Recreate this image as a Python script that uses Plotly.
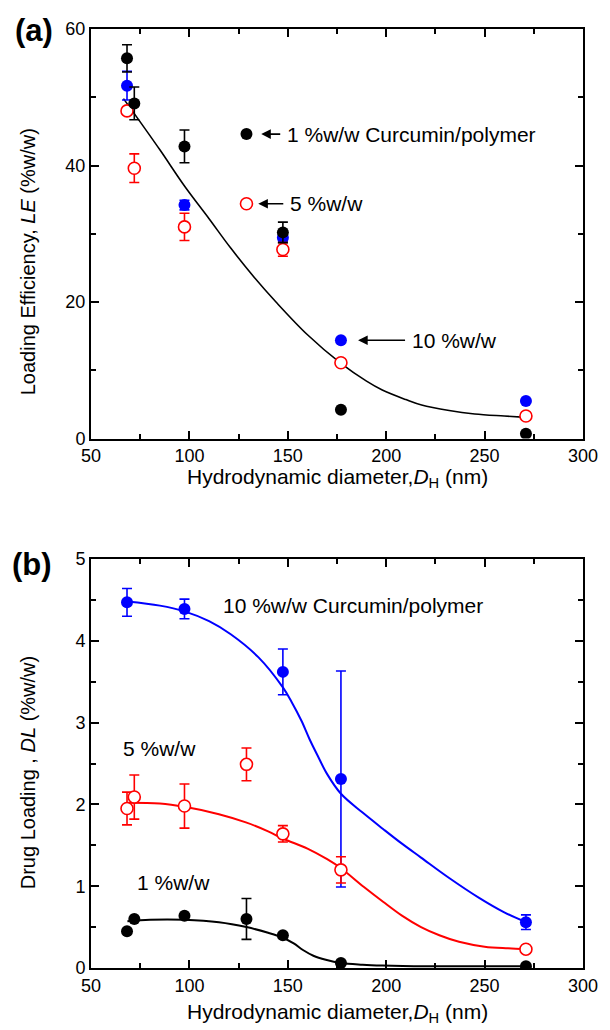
import plotly.graph_objects as go

# ---------------- data: panel (a) Loading efficiency ----------------
a_x_1 = [68.3, 72.0, 97.5, 129.0, 147.5, 177.0, 271.0]
a_y_1 = [55.7, 49.1, 42.8, 44.6, 30.2, 4.2, 0.7]
a_e_1 = [2.0, 2.4, 2.4, 0.0, 1.5, 0.0, 0.0]

a_x_5 = [68.3, 72.0, 97.5, 129.0, 147.5, 177.0, 271.0]
a_y_5 = [48.0, 39.6, 31.0, 34.4, 27.7, 11.1, 3.3]
a_e_5 = [0.5, 2.1, 2.0, 0.3, 1.0, 0.5, 0.0]

a_x_10 = [68.3, 97.5, 147.5, 177.0, 271.0]
a_y_10 = [51.7, 34.2, 29.4, 14.4, 5.5]
a_e_10 = [2.1, 0.7, 0.5, 0.0, 0.0]

fit_a_x = [66.5, 72, 85, 97.5, 110, 121, 133, 144, 160, 177, 190, 198, 210, 218, 232, 245, 260, 271]
fit_a_y = [49.8, 47.6, 42.3, 37.0, 32.2, 27.9, 23.6, 20.0, 15.2, 11.0, 8.4, 7.1, 5.7, 4.9, 4.1, 3.6, 3.3, 3.1]

# ---------------- data: panel (b) Drug loading ----------------
b_x_1 = [68.3, 72.0, 97.5, 129.0, 147.5, 177.0, 271.0]
b_y_1 = [0.45, 0.60, 0.64, 0.60, 0.40, 0.06, 0.02]
b_e_1 = [0.0, 0.0, 0.0, 0.25, 0.03, 0.0, 0.0]

b_x_5 = [68.3, 72.0, 97.5, 129.0, 147.5, 177.0, 271.0]
b_y_5 = [1.95, 2.09, 1.98, 2.49, 1.64, 1.20, 0.23]
b_e_5 = [0.20, 0.27, 0.27, 0.20, 0.10, 0.16, 0.0]

b_x_10 = [68.3, 97.5, 147.5, 177.0, 271.0]
b_y_10 = [4.47, 4.39, 3.62, 2.31, 0.56]
b_e_10 = [0.17, 0.12, 0.28, 1.32, 0.09]

fit_b10_x = [68.3, 85, 97.5, 110, 121, 135, 147.5, 152, 157, 161, 165.5, 170, 177, 188, 198.4, 208, 217.7, 232, 247, 260, 271]
fit_b10_y = [4.48, 4.43, 4.36, 4.24, 4.08, 3.80, 3.43, 3.25, 3.02, 2.80, 2.58, 2.37, 2.13, 1.90, 1.70, 1.52, 1.35, 1.10, 0.86, 0.68, 0.56]

fit_b5_x = [68.7, 85, 97.5, 115, 128.7, 140, 147.7, 160, 170, 177, 188.7, 198.4, 208, 217.7, 227, 237, 250, 262, 271]
fit_b5_y = [2.02, 2.01, 1.97, 1.88, 1.78, 1.67, 1.58, 1.46, 1.33, 1.22, 0.99, 0.81, 0.64, 0.50, 0.40, 0.32, 0.26, 0.24, 0.23]

fit_b1_x = [68.5, 80, 97.5, 115, 129, 140, 147.5, 153, 157.7, 163, 169.3, 177, 188, 198, 220, 245, 271]
fit_b1_y = [0.57, 0.59, 0.59, 0.56, 0.50, 0.43, 0.37, 0.30, 0.22, 0.15, 0.10, 0.06, 0.04, 0.03, 0.02, 0.02, 0.02]

FONT = "Arial, Liberation Sans, sans-serif"
BLUE = "#0000ff"
RED = "#ff0000"
BLACK = "#000000"

fig = go.Figure()


def add_points(x, y, e, color, open_marker, xa, ya):
    fig.add_trace(go.Scatter(
        x=x, y=y, mode="markers", xaxis=xa, yaxis=ya, showlegend=False,
        error_y=dict(type="data", array=e, visible=True, color=color, thickness=1.6, width=5),
        marker=dict(size=12, symbol="circle",
                    color="white" if open_marker else color,
                    line=dict(color=color, width=1.6 if open_marker else 0)),
    ))


def add_fit(x, y, color, width, xa, ya):
    fig.add_trace(go.Scatter(
        x=x, y=y, mode="lines", xaxis=xa, yaxis=ya, showlegend=False,
        line=dict(color=color, width=width, shape="spline", smoothing=1.0),
    ))


# panel (a)
add_fit(fit_a_x, fit_a_y, BLACK, 1.6, "x", "y")
add_points(a_x_10, a_y_10, a_e_10, BLUE, False, "x", "y")
add_points(a_x_5, a_y_5, a_e_5, RED, True, "x", "y")
add_points(a_x_1, a_y_1, a_e_1, BLACK, False, "x", "y")

# panel (b)
add_fit(fit_b10_x, fit_b10_y, BLUE, 2, "x2", "y2")
add_fit(fit_b5_x, fit_b5_y, RED, 2, "x2", "y2")
add_fit(fit_b1_x, fit_b1_y, BLACK, 2, "x2", "y2")
add_points(b_x_10, b_y_10, b_e_10, BLUE, False, "x2", "y2")
add_points(b_x_5, b_y_5, b_e_5, RED, True, "x2", "y2")
add_points(b_x_1, b_y_1, b_e_1, BLACK, False, "x2", "y2")

# geometry (pixels) of plot area
W, H = 610, 1030
ML, MR, MT, MB = 91, 17, 29, 62
PW = W - ML - MR
PH = H - MT - MB


def px(xp):
    return (xp - ML) / PW


def py(yp):
    return (H - MB - yp) / PH


axis_common = dict(
    showline=True, linecolor="black", linewidth=2, mirror="ticks",
    ticks="inside", ticklen=8, tickwidth=1.6, tickcolor="black",
    showgrid=False, zeroline=False,
    tickfont=dict(family=FONT, size=18, color="black"),
)

fig.update_layout(
    width=W, height=H,
    margin=dict(l=ML, r=MR, t=MT, b=MB),
    paper_bgcolor="white", plot_bgcolor="white",
    xaxis=dict(domain=[0, 1], anchor="y", range=[50, 300], dtick=50, tick0=50,
               minor=dict(ticks="inside", ticklen=5, dtick=25, tick0=50, tickwidth=1.6, tickcolor="black"),
               **axis_common),
    yaxis=dict(domain=[py(438.5), 1], anchor="x", range=[0, 60], dtick=20, tick0=0,
               minor=dict(ticks="inside", ticklen=5, dtick=10, tick0=0, tickwidth=1.6, tickcolor="black"),
               **axis_common),
    xaxis2=dict(domain=[0, 1], anchor="y2", range=[50, 300], dtick=50, tick0=50,
                minor=dict(ticks="inside", ticklen=5, dtick=25, tick0=50, tickwidth=1.6, tickcolor="black"),
                **axis_common),
    yaxis2=dict(domain=[0, py(559)], anchor="x2", range=[0, 5], dtick=1, tick0=0,
                minor=dict(ticks="inside", ticklen=5, dtick=0.5, tick0=0, tickwidth=1.6, tickcolor="black"),
                **axis_common),
)

ann = []
txt = dict(family=FONT, size=20, color="black")
xtxt = dict(family=FONT, size=21, color="black")
# axis titles
xtitle = "Hydrodynamic diameter,<i>D</i><sub>H</sub> (nm)"
ann.append(dict(text=xtitle, xref="paper", yref="paper", x=px(342), y=py(478),
                xanchor="center", yanchor="middle", showarrow=False, font=xtxt))
ann.append(dict(text=xtitle, xref="paper", yref="paper", x=px(342), y=py(1013),
                xanchor="center", yanchor="middle", showarrow=False, font=xtxt))
ann.append(dict(text="Loading Efficiency, <i>LE</i> (%w/w)", xref="paper", yref="paper",
                x=px(27), y=py(262), textangle=-90, xanchor="center", yanchor="middle",
                showarrow=False, font=txt))
ann.append(dict(text="Drug Loading , <i>DL</i> (%w/w)", xref="paper", yref="paper",
                x=px(27), y=py(773), textangle=-90, xanchor="center", yanchor="middle",
                showarrow=False, font=txt))
# panel labels
ann.append(dict(text="<b>(a)</b>", xref="paper", yref="paper", x=px(33), y=py(31),
                xanchor="center", yanchor="middle", showarrow=False,
                font=dict(family=FONT, size=31, color="black")))
ann.append(dict(text="<b>(b)</b>", xref="paper", yref="paper", x=px(31), y=py(565),
                xanchor="center", yanchor="middle", showarrow=False,
                font=dict(family=FONT, size=31, color="black")))

# panel (a) labels with arrows: arrow head at (head_x, y); text box starts at tail
lab = dict(family=FONT, size=21, color="black")
PAD = 6
for head_x, head_y, tail_dx, text in [
    (136.5, 44.6, 19, "1 %w/w Curcumin/polymer"),
    (135.0, 34.4, 25, "5 %w/w"),
    (185.7, 14.4, 47, "10 %w/w"),
]:
    ann.append(dict(x=head_x, y=head_y, xref="x", yref="y", ax=tail_dx, ay=0,
                    text=text, xanchor="left", yanchor="middle", borderpad=PAD,
                    showarrow=True, arrowhead=2, arrowsize=1.2, arrowwidth=1.6,
                    arrowcolor="black", standoff=0, font=lab))

# panel (b) labels
ann.append(dict(x=px(224), y=py(605), xref="paper", yref="paper", text="10 %w/w Curcumin/polymer",
                showarrow=False, xanchor="left", yanchor="middle", font=lab))
ann.append(dict(x=px(122), y=py(748), xref="paper", yref="paper", text="5 %w/w",
                showarrow=False, xanchor="left", yanchor="middle", font=lab))
ann.append(dict(x=px(136), y=py(882), xref="paper", yref="paper", text="1 %w/w",
                showarrow=False, xanchor="left", yanchor="middle", font=lab))

fig.update_layout(annotations=ann)

fig.write_html("out.html")
